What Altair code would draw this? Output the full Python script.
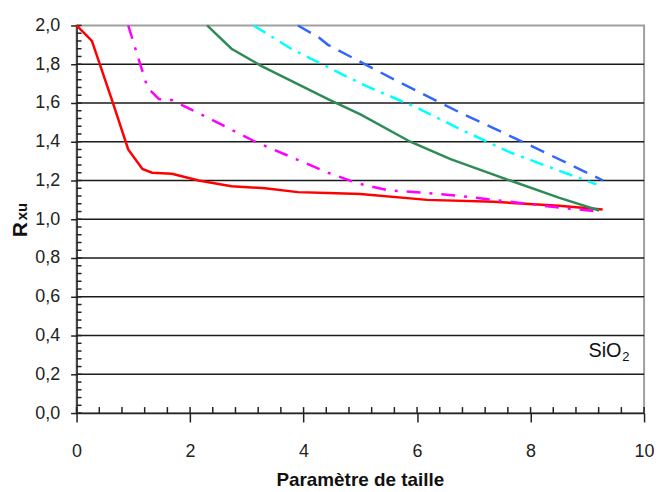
import altair as alt
import pandas as pd

# ---- data ----
red_x = [0, 0.27, 0.63, 0.91, 1.16, 1.33, 1.68, 2.15, 2.73, 3.32, 3.9, 4.43, 5.0, 6.18, 7.35, 8.5, 9.27]
red_y = [2.0, 1.92, 1.61, 1.36, 1.26, 1.24, 1.235, 1.20, 1.17, 1.16, 1.14, 1.135, 1.13, 1.10, 1.09, 1.07, 1.05]

magenta_x = [0.91, 1.1, 1.25, 1.45, 1.68, 2.27, 3.15, 4.43, 4.96, 5.48, 6.18, 6.76, 7.64, 8.51, 9.21]
magenta_y = [2.0, 1.82, 1.68, 1.62, 1.615, 1.53, 1.40, 1.24, 1.185, 1.15, 1.135, 1.12, 1.09, 1.06, 1.04]

green_x = [2.3, 2.73, 3.26, 4.43, 5.01, 5.88, 6.59, 7.64, 8.51, 9.21]
green_y = [2.0, 1.88, 1.79, 1.62, 1.54, 1.40, 1.31, 1.20, 1.11, 1.045]

cyan_x = [3.12, 3.78, 4.26, 5.01, 6.0, 6.76, 7.64, 8.51, 9.16]
cyan_y = [2.0, 1.88, 1.81, 1.70, 1.575, 1.465, 1.345, 1.25, 1.18]

blue_x = [3.9, 4.26, 4.43, 5.6, 6.76, 7.93, 9.28]
blue_y = [2.0, 1.94, 1.90, 1.72, 1.55, 1.39, 1.20]

x_ticks = [0, 2, 4, 6, 8, 10]
y_ticks = [0.0, 0.2, 0.4, 0.6, 0.8, 1.0, 1.2, 1.4, 1.6, 1.8, 2.0]
grid_vals = [0.2, 0.4, 0.6, 0.8, 1.0, 1.2, 1.4, 1.6, 1.8]
x_minor = [round(i * 0.4, 2) for i in range(26)]
y_minor = [round(i * 0.04, 2) for i in range(51)]

x_title = "Paramètre de taille"
y_title_main = "R"
y_title_sub = "xu"
note_main = "SiO"
note_sub = "2"

W, H = 571, 390

series = [
    ("red", red_x, red_y, "#ff0000", None),
    ("magenta", magenta_x, magenta_y, "#ff00ff", [14, 9, 3, 9]),
    ("green", green_x, green_y, "#2e8b57", None),
    ("cyan", cyan_x, cyan_y, "#00ffff", [14, 7, 3, 7]),
    ("blue", blue_x, blue_y, "#3366ff", [15, 9]),
]

xs = alt.Scale(domain=[0, 10], nice=False)
ys = alt.Scale(domain=[0, 2], nice=False)

FONT = "Liberation Sans"

x_axis = alt.Axis(values=x_ticks, format="d", title=None, grid=False,
                  labelFont=FONT, labelFontSize=18, labelColor="#222",
                  labelPadding=21, tickSize=9, tickWidth=1.5, tickColor="#222",
                  labelOverlap=False, labelFlush=False,
                  domainColor="#222", domainWidth=1.5)
y_axis = alt.Axis(values=y_ticks, format=".1f", labelExpr="replace(datum.label, '.', ',')",
                  title=None, grid=False, labelOverlap=False, labelFlush=False,
                  labelFont=FONT, labelFontSize=18, labelColor="#222",
                  labelPadding=11, tickSize=6, tickWidth=1.5, tickColor="#222",
                  domainColor="#222", domainWidth=1.5)


def X(f="x"):
    return alt.X(f + ":Q", scale=xs, axis=x_axis)


def Y(f="y"):
    return alt.Y(f + ":Q", scale=ys, axis=y_axis)


grid_df = pd.DataFrame({"y": grid_vals})
grid = alt.Chart(grid_df).mark_rule(color="#1a1a1a", strokeWidth=1.5).encode(
    y=Y(), x=alt.value(0), x2=alt.value(W),
)

ymin_df = pd.DataFrame({"y": y_minor})
yminor = alt.Chart(ymin_df).mark_rule(color="#222", strokeWidth=1.5).encode(
    y=Y(), x=alt.value(0), x2=alt.value(5),
)
xmin_df = pd.DataFrame({"x": x_minor})
xminor = alt.Chart(xmin_df).mark_rule(color="#222", strokeWidth=1.5).encode(
    x=X(), y=alt.value(H), y2=alt.value(H - 6),
)

layers = [grid, yminor, xminor]
for name, sx, sy, col, dash in series:
    df = pd.DataFrame({"x": sx, "y": sy})
    kw = dict(color=col, strokeWidth=2.5)
    if dash:
        kw["strokeDash"] = dash
    layers.append(alt.Chart(df).mark_line(**kw).encode(x=X(), y=Y()))

txt = pd.DataFrame({"t": [0]})
layers.append(alt.Chart(txt).mark_text(text=x_title, font=FONT, fontWeight="bold",
                                       fontSize=19, align="center", baseline="alphabetic", color="#111")
              .encode(x=alt.value(W / 2), y=alt.value(463)))
layers.append(alt.Chart(txt).mark_text(text=y_title_main, font=FONT, fontWeight="bold", fontSize=21,
                                       angle=270, align="left", baseline="alphabetic", color="#111")
              .encode(x=alt.value(-50), y=alt.value(213)))
layers.append(alt.Chart(txt).mark_text(text=y_title_sub, font=FONT, fontWeight="bold", fontSize=15,
                                       angle=270, align="left", baseline="alphabetic", color="#111")
              .encode(x=alt.value(-50), y=alt.value(196)))
layers.append(alt.Chart(txt).mark_text(text=note_main, font=FONT, fontSize=20,
                                       align="left", baseline="alphabetic", color="#111")
              .encode(x=alt.value(515), y=alt.value(334)))
layers.append(alt.Chart(txt).mark_text(text=note_sub, font=FONT, fontSize=13,
                                       align="left", baseline="alphabetic", color="#111")
              .encode(x=alt.value(549), y=alt.value(338)))

chart = alt.layer(*layers).properties(
    width=W, height=H,
    autosize=alt.AutoSizeParams(type="none"),
    padding={"left": 69, "top": 16, "right": 10, "bottom": 100},
).configure_view(stroke="#a0a0a0", strokeWidth=2)

chart.save("out.html", embed_options={"renderer": "svg", "actions": False})
